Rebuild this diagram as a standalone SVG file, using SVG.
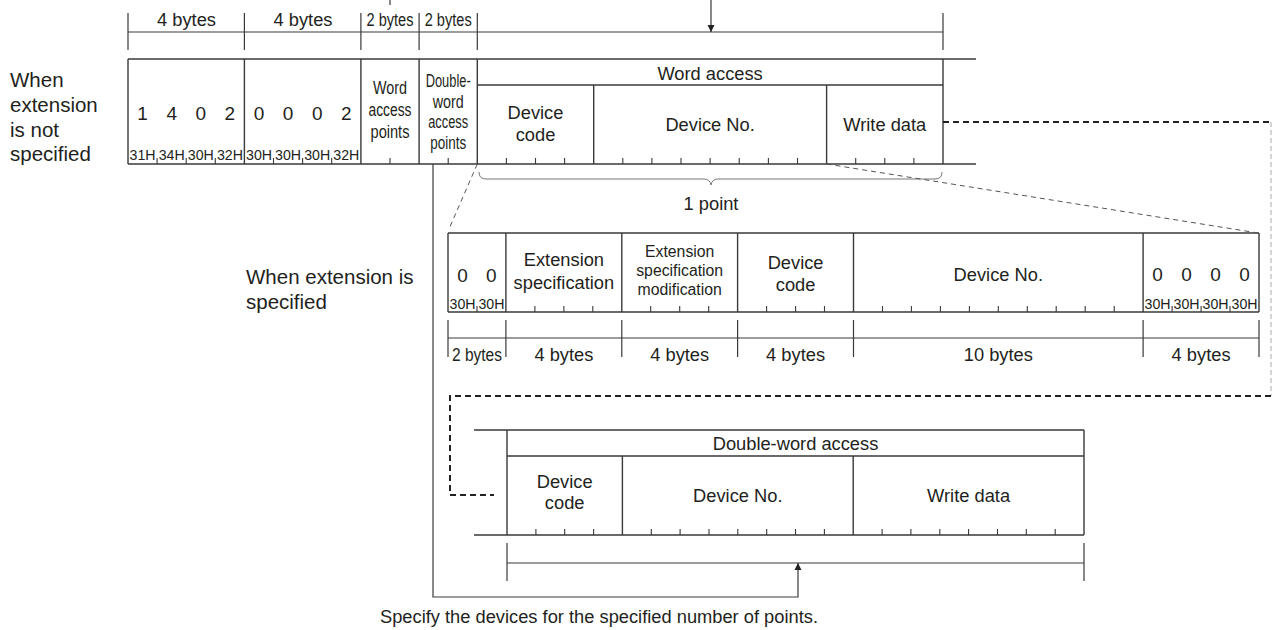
<svg xmlns="http://www.w3.org/2000/svg" width="1274" height="630" viewBox="0 0 1274 630">
<style>
text{font-family:"Liberation Sans",Arial,sans-serif;fill:#231f20}
.t18{font-size:18.3px}
.t20{font-size:20.5px}
.dg{font-size:19px}
.hx{font-size:14.5px}
.sm{font-size:15.8px}
.c{text-anchor:middle}
.ln{fill:none;stroke:#3a3a3a;stroke-width:1.4}
.tk{fill:none;stroke:#3a3a3a;stroke-width:1.1}
.dim{fill:none;stroke:#3a3a3a;stroke-width:1.2}
.thin{fill:none;stroke:#555;stroke-width:1;stroke-dasharray:5,4}
.heavy{fill:none;stroke:#222;stroke-width:2;stroke-dasharray:6,4}
.light{fill:none;stroke:#aaa;stroke-width:1;stroke-dasharray:5,3}
.brace{fill:none;stroke:#777;stroke-width:1}
</style>
<defs>
<marker id="ah" viewBox="0 0 10 10" refX="10" refY="5" markerWidth="7" markerHeight="10" markerUnits="userSpaceOnUse" orient="auto">
<path d="M0,0 L10,5 L0,10 z" fill="#222"/>
</marker>
</defs>

<g id="label-not-specified">
<text class="t20" x="10" y="87">When</text>
<text class="t20" x="10" y="112">extension</text>
<text class="t20" x="10" y="137">is not</text>
<text class="t20" x="10" y="161">specified</text>
</g>

<g id="label-specified">
<text class="t20" x="246" y="284">When extension is</text>
<text class="t20" x="246" y="309">specified</text>
</g>

<g id="dims-top">
<path class="dim" d="M128,13V50 M244.4,13V50 M360.9,13V50 M419.1,13V50 M477.3,13V50 M943,13V50 M128,32H943"/>
<text class="t18 c" x="186.5" y="25.5">4 bytes</text>
<text class="t18 c" x="303" y="25.5">4 bytes</text>
<text class="t18 c" x="390" y="25.5" textLength="47" lengthAdjust="spacingAndGlyphs">2 bytes</text>
<text class="t18 c" x="448.2" y="25.5" textLength="47" lengthAdjust="spacingAndGlyphs">2 bytes</text>
</g>

<g id="row-main">
<path class="ln" d="M128,59H976 M128,164H976 M128,59V164 M244.4,59V164 M360.9,59V164 M419.1,59V164 M477.3,59V164 M943,59V164 M477.3,85H943 M593.7,85V164 M826.6,85V164"/>
<path class="tk" d="M157.1,158V164 M186.2,158V164 M215.3,158V164 M273.5,158V164 M302.6,158V164 M331.7,158V164 M390,158V164 M448.2,158V164 M506.4,158V164 M535.5,158V164 M564.6,158V164 M622.8,158V164 M651.9,158V164 M681,158V164 M710.1,158V164 M739.2,158V164 M768.4,158V164 M797.5,158V164 M855.7,158V164 M884.8,158V164 M913.9,158V164"/>
<text class="dg c" x="142.6" y="120">1</text>
<text class="dg c" x="171.7" y="120">4</text>
<text class="dg c" x="200.8" y="120">0</text>
<text class="dg c" x="229.9" y="120">2</text>
<text class="dg c" x="259" y="120">0</text>
<text class="dg c" x="288.1" y="120">0</text>
<text class="dg c" x="317.2" y="120">0</text>
<text class="dg c" x="346.3" y="120">2</text>
<text class="hx c" x="142.6" y="160" textLength="26" lengthAdjust="spacingAndGlyphs">31H</text>
<text class="hx c" x="171.7" y="160" textLength="26" lengthAdjust="spacingAndGlyphs">34H</text>
<text class="hx c" x="200.8" y="160" textLength="26" lengthAdjust="spacingAndGlyphs">30H</text>
<text class="hx c" x="229.9" y="160" textLength="26" lengthAdjust="spacingAndGlyphs">32H</text>
<text class="hx c" x="259" y="160" textLength="26" lengthAdjust="spacingAndGlyphs">30H</text>
<text class="hx c" x="288.1" y="160" textLength="26" lengthAdjust="spacingAndGlyphs">30H</text>
<text class="hx c" x="317.2" y="160" textLength="26" lengthAdjust="spacingAndGlyphs">30H</text>
<text class="hx c" x="346.3" y="160" textLength="26" lengthAdjust="spacingAndGlyphs">32H</text>
<text class="t18 c" x="390" y="94" textLength="34" lengthAdjust="spacingAndGlyphs">Word</text>
<text class="t18 c" x="390" y="116" textLength="43" lengthAdjust="spacingAndGlyphs">access</text>
<text class="t18 c" x="390" y="138" textLength="39" lengthAdjust="spacingAndGlyphs">points</text>
<text class="t18 c" x="448.2" y="87" textLength="45" lengthAdjust="spacingAndGlyphs">Double-</text>
<text class="t18 c" x="448.2" y="107.5" textLength="31" lengthAdjust="spacingAndGlyphs">word</text>
<text class="t18 c" x="448.2" y="128" textLength="40" lengthAdjust="spacingAndGlyphs">access</text>
<text class="t18 c" x="448.2" y="148.5" textLength="36" lengthAdjust="spacingAndGlyphs">points</text>
<text class="t18 c" x="710.1" y="79.5">Word access</text>
<text class="t18 c" x="535.5" y="119">Device</text>
<text class="t18 c" x="535.5" y="141">code</text>
<text class="t18 c" x="710.1" y="130.5">Device No.</text>
<text class="t18 c" x="884.8" y="130.5">Write data</text>
</g>

<g id="brace-1point">
<path class="brace" d="M479,172 Q479,179 486,179 L704,179 Q710,179 711,185 Q712,179 718,179 L935,179 Q942,179 942,172"/>
<text class="t18 c" x="711" y="209.5">1 point</text>
</g>

<g id="row-extension">
<path class="ln" d="M448,233H1259 M448,312H1259 M448,233V312 M505.9,233V312 M621.8,233V312 M737.6,233V312 M853.5,233V312 M1143.1,233V312 M1259,233V312"/>
<path class="tk" d="M477,306V312 M534.9,306V312 M563.9,306V312 M592.8,306V312 M650.7,306V312 M679.7,306V312 M708.7,306V312 M766.6,306V312 M795.6,306V312 M824.5,306V312 M882.5,306V312 M911.4,306V312 M940.4,306V312 M969.4,306V312 M998.3,306V312 M1027.3,306V312 M1056.2,306V312 M1085.2,306V312 M1114.2,306V312 M1172.1,306V312 M1201.1,306V312 M1230,306V312"/>
<text class="dg c" x="462.5" y="282">0</text>
<text class="dg c" x="491.4" y="282">0</text>
<text class="hx c" x="462.5" y="309" textLength="26" lengthAdjust="spacingAndGlyphs">30H</text>
<text class="hx c" x="491.4" y="309" textLength="26" lengthAdjust="spacingAndGlyphs">30H</text>
<text class="t18 c" x="563.9" y="266">Extension</text>
<text class="t18 c" x="563.9" y="289">specification</text>
<text class="sm c" x="679.7" y="256.5">Extension</text>
<text class="sm c" x="679.7" y="276">specification</text>
<text class="sm c" x="679.7" y="295">modification</text>
<text class="t18 c" x="795.6" y="268.5">Device</text>
<text class="t18 c" x="795.6" y="290.5">code</text>
<text class="t18 c" x="998.3" y="280.5">Device No.</text>
<text class="dg c" x="1157.6" y="281">0</text>
<text class="dg c" x="1186.6" y="281">0</text>
<text class="dg c" x="1215.5" y="281">0</text>
<text class="dg c" x="1244.5" y="281">0</text>
<text class="hx c" x="1157.6" y="309" textLength="26" lengthAdjust="spacingAndGlyphs">30H</text>
<text class="hx c" x="1186.6" y="309" textLength="26" lengthAdjust="spacingAndGlyphs">30H</text>
<text class="hx c" x="1215.5" y="309" textLength="26" lengthAdjust="spacingAndGlyphs">30H</text>
<text class="hx c" x="1244.5" y="309" textLength="26" lengthAdjust="spacingAndGlyphs">30H</text>
</g>

<g id="dims-extension">
<path class="dim" d="M448,320V357 M505.9,320V357 M621.8,320V357 M737.6,320V357 M853.5,320V357 M1143.1,320V357 M1259,320V357 M448,338H1259"/>
<text class="t18 c" x="477" y="361" textLength="50" lengthAdjust="spacingAndGlyphs">2 bytes</text>
<text class="t18 c" x="563.9" y="361">4 bytes</text>
<text class="t18 c" x="679.7" y="361">4 bytes</text>
<text class="t18 c" x="795.6" y="361">4 bytes</text>
<text class="t18 c" x="998.3" y="361">10 bytes</text>
<text class="t18 c" x="1201.1" y="361">4 bytes</text>
</g>

<g id="row-dword">
<path class="ln" d="M474,430H1084 M474,535H1084 M507,430V535 M1084,430V535 M507,456H1084 M622.4,456V535 M853.2,456V535"/>
<path class="tk" d="M535.9,529V535 M564.7,529V535 M593.6,529V535 M651.3,529V535 M680.1,529V535 M709,529V535 M737.8,529V535 M766.7,529V535 M795.5,529V535 M824.4,529V535 M882.1,529V535 M910.9,529V535 M939.8,529V535 M968.6,529V535 M997.5,529V535 M1026.3,529V535 M1055.2,529V535"/>
<text class="t18 c" x="795.5" y="449.5">Double-word access</text>
<text class="t18 c" x="564.7" y="487.5">Device</text>
<text class="t18 c" x="564.7" y="509">code</text>
<text class="t18 c" x="737.8" y="501.5">Device No.</text>
<text class="t18 c" x="968.6" y="501.5">Write data</text>
</g>

<g id="dims-dword">
<path class="dim" d="M507,543V581 M1084,543V581 M507,563H1084"/>
</g>

<g id="note">
<text class="t18" x="380" y="623">Specify the devices for the specified number of points.</text>
</g>

<g id="connectors">
<path class="dim" d="M390,0V5"/>
<path class="dim" d="M711,0V32" marker-end="url(#ah)"/>
<path class="dim" d="M433,164V597H798V563" marker-end="url(#ah)"/>
<path class="thin" d="M477.3,164L449,229"/>
<path class="thin" d="M826.6,164L1258,233"/>
<path class="heavy" d="M943,122H1271"/>
<path class="light" d="M1271,122V396"/>
<path class="heavy" d="M1271,396H450V495H494"/>
</g>
</svg>
